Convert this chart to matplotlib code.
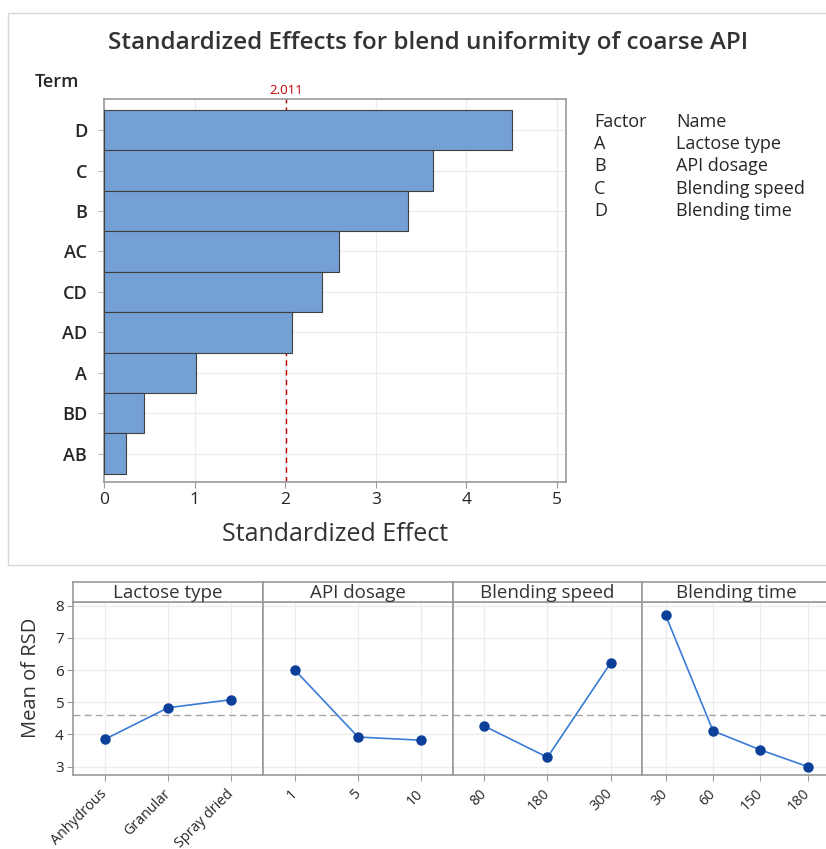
import matplotlib
matplotlib.use("Agg")
import matplotlib.pyplot as plt
from matplotlib.patches import Rectangle

# Pareto chart data (largest effect first)
terms = ["D", "C", "B", "AC", "CD", "AD", "A", "BD", "AB"]
effects = [4.50, 3.63, 3.36, 2.59, 2.41, 2.07, 1.02, 0.44, 0.24]
t_crit = 2.011

factor_codes = ["A", "B", "C", "D"]
factor_names = ["Lactose type", "API dosage", "Blending speed", "Blending time"]

# Main effects data
lactose_levels = ["Anhydrous", "Granular", "Spray dried"]
lactose_means = [3.85, 4.83, 5.08]
dosage_levels = ["1", "5", "10"]
dosage_means = [6.00, 3.92, 3.82]
speed_levels = ["80", "180", "300"]
speed_means = [4.26, 3.29, 6.22]
time_levels = ["30", "60", "150", "180"]
time_means = [7.70, 4.11, 3.52, 3.00]
grand_mean = 4.60

FONT = ["Open Sans", "DejaVu Sans"]
plt.rcParams["font.family"] = FONT
TXT = "#262626"
FRAME = "#9a9a9a"
GRID = "#ececec"

W, H = 826, 849
fig = plt.figure(figsize=(W / 100, H / 100), dpi=100)


def fx(px):
    return px / W


def fy(py):
    return 1 - py / H


# light border around the pareto section
fig.patches.append(Rectangle((fx(8), fy(565)), fx(830) - fx(8), fy(13) - fy(565),
                             transform=fig.transFigure, fill=False,
                             edgecolor="#d6d6d6", linewidth=1.0))

# ---------------- Pareto chart ----------------
ax = fig.add_axes([fx(104), fy(482.3), fx(566) - fx(104), fy(99.3) - fy(482.3)])
n = len(terms)
ypos = list(range(n - 1, -1, -1))
ax.barh(ypos, effects, height=1.0, color="#75A0D6", edgecolor="#3f3f3f",
        linewidth=0.8, zorder=3)
ax.axvline(t_crit, color="#C00000", linestyle=(0, (4, 3)), linewidth=1.0, zorder=2)
ax.set_xlim(0, 5.1)
ax.set_ylim(-0.71, n - 1 + 0.765)
ax.set_yticks(ypos)
ax.set_yticklabels(terms, fontsize=13, fontweight="semibold", color=TXT)
ax.set_xticks(range(6))
ax.set_xticklabels([str(i) for i in range(6)], fontsize=12.5, color=TXT)
ax.tick_params(axis="y", length=4, color="#bdbdbd", pad=8)
ax.tick_params(axis="x", length=4, color=FRAME, pad=3)
ax.grid(True, color=GRID, linewidth=0.9, zorder=0)
ax.set_axisbelow(True)
for s in ax.spines.values():
    s.set_color(FRAME)
    s.set_linewidth(1.2)
ax.set_xlabel("Standardized Effect", fontsize=18, color="#333333", labelpad=10)
ax.text(t_crit, 1.006, f"{t_crit:.3f}", transform=ax.get_xaxis_transform(),
        ha="center", va="bottom", color="#C00000", fontsize=9.5)

fig.text(fx(428), fy(43), "Standardized Effects for blend uniformity of coarse API",
         ha="center", va="center", fontsize=17.5, fontweight="semibold", color="#333333")
fig.text(fx(35), fy(82), "Term", ha="left", va="center", fontsize=13,
         fontweight="semibold", color=TXT)

# factor key
fig.text(fx(594), fy(122), "Factor", ha="left", va="center", fontsize=13, color=TXT)
fig.text(fx(676), fy(122), "Name", ha="left", va="center", fontsize=13, color=TXT)
for i, (c, nm) in enumerate(zip(factor_codes, factor_names)):
    yy = fy(144 + 22.4 * i)
    fig.text(fx(594), yy, c, ha="left", va="center", fontsize=13, color=TXT)
    fig.text(fx(676), yy, nm, ha="left", va="center", fontsize=13, color=TXT)

# ---------------- Main effects panels ----------------
panels = [
    ("Lactose type", lactose_levels, lactose_means, 73.3),
    ("API dosage", dosage_levels, dosage_means, 263.3),
    ("Blending speed", speed_levels, speed_means, 452.7),
    ("Blending time", time_levels, time_means, 642.0),
]
pw = 189.5
top_plot, bot_plot, top_strip = 602, 775, 582
LINE = "#3A7BD5"
MARK = "#0B3F9A"

for k, (title, levels, means, left) in enumerate(panels):
    pax = fig.add_axes([fx(left), fy(bot_plot), fx(pw), fy(top_plot) - fy(bot_plot)])
    xs = list(range(len(levels)))
    pax.plot(xs, means, color=LINE, linewidth=1.2, zorder=3)
    pax.plot(xs, means, linestyle="none", marker="o", markersize=6.5,
             color=MARK, zorder=4)
    pax.axhline(grand_mean, color="#a6a6a6", linestyle=(0, (5, 3)), linewidth=1.0, zorder=2)
    pax.set_xlim(-0.5, len(levels) - 0.5)
    pax.set_ylim(2.74, 8.115)
    pax.set_xticks(xs)
    pax.set_xticklabels(levels, rotation=45, ha="right", va="center",
                        rotation_mode="anchor", fontsize=10.3, color=TXT)
    pax.set_yticks(range(3, 9))
    pax.grid(True, color=GRID, linewidth=0.9, zorder=0)
    pax.set_axisbelow(True)
    pax.tick_params(axis="x", length=4, color=FRAME, pad=8)
    if k == 0:
        pax.set_yticklabels([str(v) for v in range(3, 9)], fontsize=11, color=TXT)
        pax.tick_params(axis="y", length=4, color=FRAME, pad=3)
        pax.set_ylabel("Mean of RSD", fontsize=14.5, color="#333333", labelpad=8)
        pax.yaxis.set_label_coords(-0.172, (688.5 - 678 + 86.5) / 173)
    else:
        pax.tick_params(axis="y", length=0, labelleft=False)
    for s in pax.spines.values():
        s.set_color(FRAME)
        s.set_linewidth(1.2)

    sax = fig.add_axes([fx(left), fy(top_plot), fx(pw), fy(top_strip) - fy(top_plot)])
    sax.set_xticks([])
    sax.set_yticks([])
    for s in sax.spines.values():
        s.set_color(FRAME)
        s.set_linewidth(1.2)
    sax.text(0.5, 0.45, title, transform=sax.transAxes, ha="center", va="center",
             fontsize=13.5, color="#333333")

fig.savefig("out.png", dpi=100)
